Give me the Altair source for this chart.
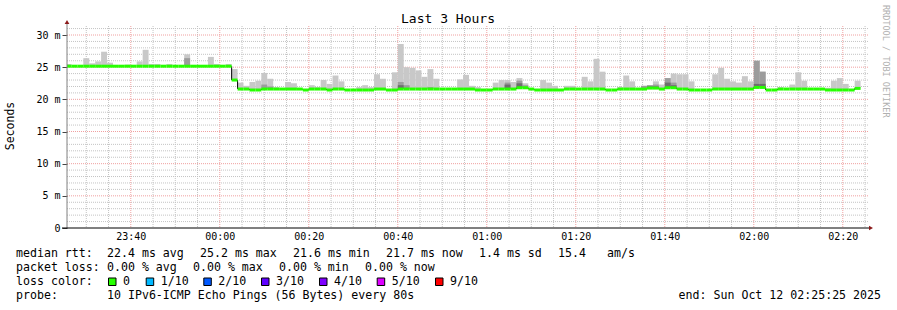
import altair as alt
import pandas as pd
from datetime import datetime, timezone, timedelta

# ---------------- data ----------------
# one value per 80 s step, 134 steps
median_ms = [
    25.15, 25.15, 25.15, 25.15, 25.15, 25.15, 25.15, 25.15, 25.15, 25.15,
    25.15, 25.15, 25.15, 25.15, 25.15, 25.15, 25.15, 25.15, 25.15, 25.15,
    25.15, 25.15, 25.15, 25.15, 25.15, 25.15, 25.15, 25.15, 23.0, 21.6,
    21.6, 21.45, 21.45, 21.6, 21.6, 21.6, 21.6, 21.6, 21.6, 21.6,
    21.45, 21.6, 21.6, 21.6, 21.45, 21.6, 21.6, 21.45, 21.45, 21.45,
    21.45, 21.45, 21.6, 21.6, 21.45, 21.45, 21.6, 21.6, 21.6, 21.6,
    21.6, 21.6, 21.6, 21.6, 21.6, 21.6, 21.6, 21.6, 21.6, 21.45,
    21.45, 21.45, 21.6, 21.6, 21.6, 21.6, 21.8, 21.8, 21.6, 21.45,
    21.45, 21.45, 21.45, 21.45, 21.6, 21.6, 21.6, 21.6, 21.6, 21.6,
    21.6, 21.45, 21.45, 21.6, 21.6, 21.6, 21.6, 21.6, 21.75, 21.75,
    21.6, 21.8, 21.8, 21.6, 21.6, 21.45, 21.45, 21.45, 21.45, 21.6,
    21.6, 21.6, 21.6, 21.6, 21.6, 21.6, 21.85, 21.85, 21.45, 21.45,
    21.6, 21.6, 21.6, 21.6, 21.6, 21.6, 21.6, 21.6, 21.45, 21.45,
    21.45, 21.45, 21.45, 21.7,
]
N = None
smoke_top_ms = [
    25.5, N, N, 26.4, 25.6, 25.9, 27.4, 25.7, N, N,
    25.4, N, 25.9, 27.7, 25.5, 25.5, N, 25.5, N, N,
    27.0, N, N, N, 26.6, 25.5, N, 25.5, 24.7, 22.6,
    22.1, 22.7, 22.9, 24.1, 23.2, 21.9, N, 22.7, 22.5, N,
    N, 22.2, 21.9, 23.0, 22.4, 23.7, 22.8, N, N, 21.9,
    22.2, 21.9, 23.9, 23.2, N, 24.2, 28.6, 25.0, 24.9, 24.5,
    23.5, 24.7, 23.2, N, N, N, 23.1, 23.8, 22.1, 21.9,
    N, N, 22.6, 23.0, 23.0, 22.7, 23.3, 22.5, N, N,
    23.0, 22.6, 22.1, N, 22.1, 22.1, N, 23.5, 22.8, 26.3,
    24.3, N, N, 21.9, 23.7, 22.8, N, 22.1, 22.2, 22.8,
    22.3, 23.3, 24.0, 23.9, 23.9, 22.8, N, N, N, 23.9,
    24.9, 23.2, 22.8, 22.6, 23.6, 22.8, 26.0, 24.3, N, N,
    21.9, N, 22.3, 24.2, 22.9, N, N, N, 21.8, 22.9,
    23.3, 22.4, N, 22.9,
]
mid_steps = [20, 33, 34, 56, 57, 61, 74, 76, 77, 97, 98, 99, 101, 102, 116, 117]
mid_ms = [26.4, 22.3, 22.0, 22.7, 22.2, 21.9, 22.6, 22.9, 22.2, 22.1, 22.2, 22.3, 23.3, 22.6, 26.0, 24.3]
dark_steps = [56, 74, 76, 98, 99, 101, 102, 116, 117]
dark_ms = [22.2, 22.3, 22.5, 22.0, 22.0, 22.6, 22.2, 22.4, 22.4]

y_ticks = [0, 5, 10, 15, 20, 25, 30]
x_tick_labels = ["23:40", "00:00", "00:20", "00:40", "01:00", "01:20", "01:40", "02:00", "02:20"]

loss_labels = ["0", "1/10", "2/10", "3/10", "4/10", "5/10", "9/10"]
loss_colors = ["#26ff00", "#00b8ff", "#0059ff", "#5e00ff", "#7e00ff", "#dd00ff", "#ff0000"]

rtt_stats = ["22.4 ms avg", "25.2 ms max", "21.6 ms min", "21.7 ms now", "1.4 ms sd", "15.4", "am/s"]
loss_stats = ["0.00 % avg", "0.00 % max", "0.00 % min", "0.00 % now"]
probe_text = "10 IPv6-ICMP Echo Pings (56 Bytes) every 80s"
end_text = "end: Sun Oct 12 02:25:25 2025"
title_text = "Last 3 Hours"

# ---------------- helpers ----------------
UTC = timezone.utc
STEP_S = 80
first_step = datetime(2025, 10, 11, 23, 25, 20, tzinfo=UTC)
view_start = datetime(2025, 10, 11, 23, 25, 40, tzinfo=UTC)
view_end = view_start + timedelta(hours=3)


def ms(d):
    return int(d.timestamp() * 1000)


def step_t0(i):
    return first_step + timedelta(seconds=STEP_S * i)


def hhmm(s):
    h, m = map(int, s.split(":"))
    day = 11 if h >= 12 else 12
    return datetime(2025, 10, day, h, m, tzinfo=UTC)


steps = pd.DataFrame({
    "t0": [ms(step_t0(i)) for i in range(len(median_ms))],
    "t1": [ms(step_t0(i + 1)) for i in range(len(median_ms))],
    "med": median_ms,
    "top": smoke_top_ms,
})
smoke = steps[steps["top"].notna()]
mid_df = steps.iloc[mid_steps].assign(val=mid_ms)
dark_df = steps.iloc[dark_steps].assign(val=dark_ms)

trans = pd.DataFrame([
    {"t": steps.t0[i], "a": median_ms[i - 1], "b": median_ms[i]}
    for i in range(1, len(median_ms)) if median_ms[i] != median_ms[i - 1]
])

major_t = [hhmm(s) for s in x_tick_labels]
minor_t = []
t = datetime(2025, 10, 11, 23, 30, tzinfo=UTC)
while t < view_end:
    if t.minute % 20 != 0:
        minor_t.append(ms(t))
    t += timedelta(minutes=5)
major_df = pd.DataFrame({"t": [ms(d) for d in major_t]})
minor_df = pd.DataFrame({"t": minor_t})
ymajor_df = pd.DataFrame({"v": [v for v in y_ticks if v > 0]})
yminor_df = pd.DataFrame({"v": [v for v in range(1, 32) if v % 5 != 0]})

# ---------------- layout ----------------
W, H = 801, 202
L, T = 67, 26
MONO = "DejaVu Sans Mono"

xscale = alt.Scale(type="utc", domain=[ms(view_start), ms(view_end)])
yscale = alt.Scale(domain=[0, 31.4], nice=False, zero=True)
xaxis = alt.Axis(values=[ms(d) for d in major_t], format="%H:%M", title=None, grid=False,
                 domain=False, ticks=False, labelFont=MONO, labelFontSize=10,
                 labelColor="#000000", labelPadding=3, labelFlush=False, labelOverlap=False)
yaxis = alt.Axis(values=y_ticks, labelExpr="datum.value == 0 ? '0' : datum.value + ' m'",
                 title=None, grid=False, domain=False, tickSize=5, tickColor="#444444",
                 labelFont=MONO, labelFontSize=10, labelColor="#000000", labelPadding=2)


def X(f):
    return alt.X(f, type="temporal", scale=xscale, axis=xaxis)


def Y(f):
    return alt.Y(f, type="quantitative", scale=yscale, axis=yaxis)


def txt(s, px, py, size=11.6, align="left", color="#000000", angle=0):
    return alt.Chart(alt.Data(values=[{}])).mark_text(
        text=s, font=MONO, fontSize=size, align=align, baseline="middle",
        color=color, angle=angle
    ).encode(x=alt.value(px - L), y=alt.value(py - T))


GRID = "#c4c4c4"
MGRID = "#f0a0a0"

layers = [
    alt.Chart(minor_df).mark_rule(color=GRID, strokeDash=[1, 1], strokeWidth=1).encode(
        x=X("t"), y=alt.value(0), y2=alt.value(H)),
    alt.Chart(yminor_df).mark_rule(color=GRID, strokeDash=[1, 1], strokeWidth=1).encode(
        y=Y("v"), x=alt.value(0), x2=alt.value(W)),
    alt.Chart(major_df).mark_rule(color=MGRID, strokeDash=[1, 1], strokeWidth=1).encode(
        x=X("t"), y=alt.value(0), y2=alt.value(H)),
    alt.Chart(ymajor_df).mark_rule(color=MGRID, strokeDash=[1, 1], strokeWidth=1).encode(
        y=Y("v"), x=alt.value(0), x2=alt.value(W)),
    alt.Chart(smoke).mark_rect(color="#c8c8c8", clip=True).encode(
        x=X("t0"), x2="t1", y=Y("med"), y2="top"),
    alt.Chart(mid_df).mark_rect(color="#9c9c9c", clip=True).encode(
        x=X("t0"), x2="t1", y=Y("med"), y2="val"),
    alt.Chart(dark_df).mark_rect(color="#6e6e6e", clip=True).encode(
        x=X("t0"), x2="t1", y=Y("med"), y2="val"),
    alt.Chart(trans).mark_rule(color="#000000", strokeWidth=1, clip=True).encode(
        x=X("t"), y=Y("a"), y2="b"),
    alt.Chart(steps).mark_rule(color="#26ff00", strokeWidth=3, clip=True).encode(
        x=X("t0"), x2="t1", y=Y("med")),
    # axis lines and arrows
    alt.Chart(alt.Data(values=[{}])).mark_rule(color="#808080", strokeWidth=1).encode(
        x=alt.value(0), y=alt.value(-3), y2=alt.value(H)),
    alt.Chart(alt.Data(values=[{}])).mark_rule(color="#000000", strokeWidth=1).encode(
        x=alt.value(-5), x2=alt.value(W + 2), y=alt.value(H)),
    alt.Chart(alt.Data(values=[{}])).mark_point(shape="triangle-up", filled=True, size=22,
                                                color="#8b1a1a", opacity=1).encode(
        x=alt.value(0), y=alt.value(-4)),
    alt.Chart(alt.Data(values=[{}])).mark_point(shape="triangle-right", filled=True, size=22,
                                                color="#8b1a1a", opacity=1).encode(
        x=alt.value(W + 3), y=alt.value(H)),
    # titles
    txt(title_text, 448, 19, size=13),
    txt("Seconds", 11, 126, size=11.5, align="center", angle=270),
    txt("RRDTOOL / TOBI OETIKER", 886, 5, size=8.5, color="#b0b0b0", angle=90),
]
layers[-3] = txt(title_text, 448, 19, size=13, align="center")

# legend rows
rtt_x = [107, 200, 293, 386, 479, 558, 607]
loss_x = [107, 193, 279, 365]
box_x = [108, 145.7, 203.3, 261, 319, 376.7, 435]

layers.append(txt("median rtt:", 16, 254))
for s, px in zip(rtt_stats, rtt_x):
    layers.append(txt(s, px, 254))
layers.append(txt("packet loss:", 16, 268))
for s, px in zip(loss_stats, loss_x):
    layers.append(txt(s, px, 268))
layers.append(txt("loss color:", 16, 282))
for lab, col, px in zip(loss_labels, loss_colors, box_x):
    layers.append(
        alt.Chart(alt.Data(values=[{}])).mark_rect(color=col, stroke="#000000", strokeWidth=1).encode(
            x=alt.value(px + 0.5 - L), x2=alt.value(px + 8 - L),
            y=alt.value(278 - T), y2=alt.value(285.5 - T)))
    layers.append(txt(lab, px + 15, 282))
layers.append(txt("probe:", 16, 296))
layers.append(txt(probe_text, 107, 296))
layers.append(txt(end_text, 881, 296, align="right"))

chart = alt.layer(*layers).properties(
    width=W, height=H,
    autosize=alt.AutoSizeParams(type="none"),
    padding={"left": L, "top": T, "right": 897 - L - W, "bottom": 310 - T - H},
    background="#ffffff",
).configure_view(stroke=None)

chart.save("out.html", embed_options={"renderer": "svg", "actions": False})
